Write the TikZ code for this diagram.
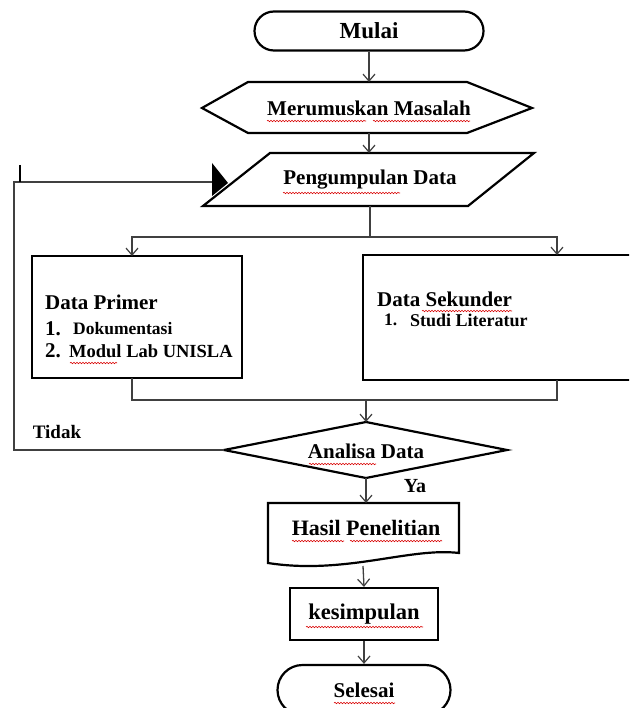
\documentclass[tikz,border=0pt]{standalone}
\usepackage{fontspec}
\setmainfont{Liberation Serif}
\usetikzlibrary{arrows.meta,shapes.misc,decorations.pathmorphing}
\begin{document}
\begin{tikzpicture}[x=1pt,y=-1pt,
  shapeline/.style={draw=black,line width=2.2pt},
  lbl/.style={font=\fontsize{21}{24}\selectfont\bfseries,inner sep=0pt},
  small/.style={font=\fontsize{17.5}{20}\selectfont\bfseries,inner sep=0pt,anchor=west},
  big/.style={font=\fontsize{21}{24}\selectfont\bfseries,inner sep=0pt,anchor=west},
  conn/.style={draw=black!75,line width=1.3pt},
  arr/.style={conn,-{Straight Barb[length=7pt,width=12pt,line width=1.2pt]}},
  term/.style={shapeline,rounded rectangle,inner sep=0pt,lbl},
  boxx/.style={shapeline,rectangle,inner sep=0pt,lbl},
  spell/.style={draw=red!85!black,line width=0.6pt,decorate,decoration={snake,amplitude=0.7pt,segment length=3pt}}]
\clip (0,0) rectangle (629,708);
\fill[white] (0,0) rectangle (629,708);

% Mulai
\node[term,minimum width=229pt,minimum height=39pt,font=\fontsize{23}{26}\selectfont\bfseries] (mulai) at (369,31) {Mulai};

% Merumuskan Masalah (hexagon)
\draw[shapeline] (202,108)--(248,82)--(467,82)--(532,108)--(467,133)--(248,133)--cycle;
\node[lbl] (rumus) at (369,108) {Merumuskan Masalah};
\coordinate (rumusN) at (369,82);
\coordinate (rumusS) at (369,133);

% Pengumpulan Data (parallelogram)
\draw[shapeline] (270,153)--(534,153)--(468,206)--(203,206)--cycle;
\node[lbl] (pd) at (370,180) {Pengumpulan Data};
\coordinate (pdN) at (369,153);
\coordinate (pdS) at (370,206);

% Data Primer
\node[boxx,minimum width=210pt,minimum height=122pt] (primer) at (137,317) {};
\node[big] (primerT) at (45,302) {Data Primer};
\node[big] (primer1) at (45,329) {1.};
\node[small] (primer1t) at (73,329) {Dokumentasi};
\node[big] (primer2) at (45,351) {2.};
\node[small,font=\fontsize{18.5}{20}\selectfont\bfseries] (primer2t) at (69,351) {Modul Lab UNISLA};

% Data Sekunder
\node[boxx,minimum width=277pt,minimum height=125pt] (sekunder) at (501.5,317.5) {};
\node[big] (sekT) at (377,299) {Data Sekunder};
\node[small] (sek1) at (384,320) {1.};
\node[small,font=\fontsize{18}{20}\selectfont\bfseries] (sek1t) at (410,320) {Studi Literatur};
\coordinate (sekN) at (557,255);
\coordinate (sekS) at (557,380);
\coordinate (primN) at (132,256);
\coordinate (primS) at (132,378);

% Analisa Data (decision)
\draw[shapeline] (224,450)--(366,422)--(507,450)--(366,478)--cycle;
\node[lbl] (analisa) at (366,451) {Analisa Data};
\coordinate (analisaN) at (366,422);
\coordinate (analisaS) at (366,478);
\coordinate (analisaW) at (224,450);

% Hasil Penelitian (document)
\draw[shapeline] (268,503)--(459,503)--(459,553)
  .. controls (410,547) and (345,575) .. (268,563) -- cycle;
\node[lbl,font=\fontsize{22}{24}\selectfont\bfseries] (hasil) at (366,528) {Hasil Penelitian};
\coordinate (hasilN) at (366,503);
\coordinate (hasilS) at (363,566);

% kesimpulan
\node[boxx,minimum width=148pt,minimum height=52pt,font=\fontsize{22.5}{24}\selectfont\bfseries] (kes) at (364,614) {kesimpulan};

% Selesai
\node[term,minimum width=173pt,minimum height=50pt] (selesai) at (364,690) {Selesai};

% connectors
\draw[arr] (mulai.south) -- (rumusN);
\draw[arr] (rumusS) -- (pdN);
\coordinate (split) at (370,237);
\draw[conn] (pdS) -- (split);
\draw[arr] (split) -| (primN);
\draw[arr] (split) -| (sekN);
\coordinate (join) at (366,400);
\draw[conn] (primS) |- (join);
\draw[conn] (sekS) |- (join);
\draw[arr] (join) -- (analisaN);
\draw[arr] (analisaS) -- (hasilN);
\draw[arr] (hasilS) -- (kes.north);
\draw[arr] (kes.south) -- (selesai.north);

% Tidak loop
\coordinate (loopA) at (14,450);
\coordinate (loopB) at (14,182);
\coordinate (tidakEnd) at (212,182);
\draw[conn] (analisaW) -- (loopA) -- (loopB) -- (tidakEnd);
\draw[black,line width=1.5pt] (20,165) -- (20,182);
\fill[black] (212,163) -- (228,183) -- (212,196) -- cycle;

\node[font=\fontsize{19}{22}\selectfont\bfseries,inner sep=0pt] (tidak) at (57,432) {Tidak};
\node[font=\fontsize{20}{22}\selectfont\bfseries,inner sep=0pt] (ya) at (415,486) {Ya};

% spell-check underlines
\draw[spell] (267,121) -- (366,121);
\draw[spell] (373,121) -- (470,121);
\draw[spell] (283,193) -- (400,193);
\draw[spell] (70,363) -- (117,363);
\draw[spell] (422,311) -- (512,311);
\draw[spell] (309,464) -- (376,464);
\draw[spell] (292,541) -- (344,541);
\draw[spell] (350,541) -- (442,541);
\draw[spell] (306,627) -- (423,627);
\draw[spell] (334,703) -- (395,703);
\end{tikzpicture}
\end{document}
